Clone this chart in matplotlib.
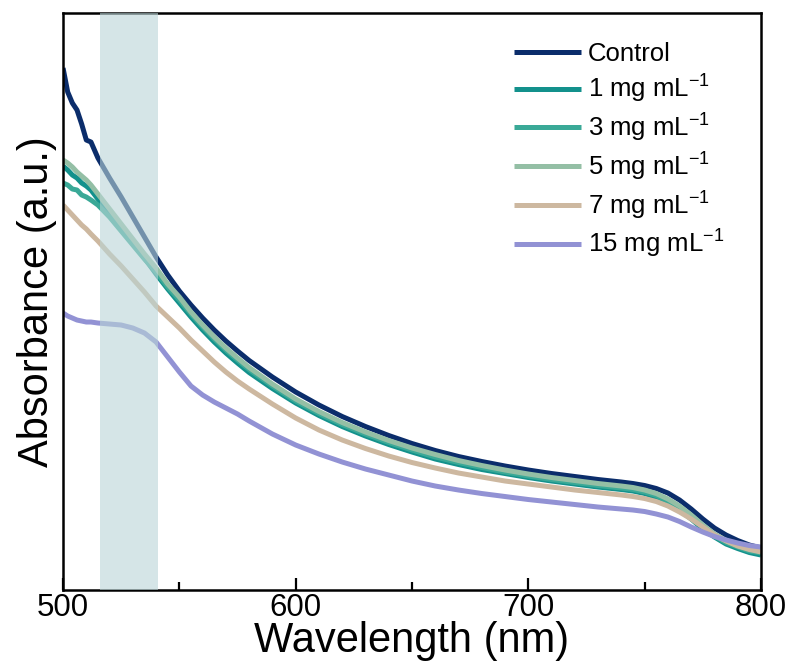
import matplotlib
matplotlib.use("Agg")
import matplotlib.pyplot as plt
from matplotlib.ticker import MultipleLocator

plt.rcParams['font.family'] = ['Liberation Sans', 'DejaVu Sans']
plt.rcParams['mathtext.fontset'] = 'custom'
plt.rcParams['mathtext.rm'] = 'Liberation Sans'
plt.rcParams['mathtext.it'] = 'Liberation Sans:italic'

# --- DATA (absorbance, a.u.) ---
wavelength = [500, 502, 504, 506, 508, 510, 512, 515, 520, 525, 530, 535, 540,
              545, 550, 555, 560, 565, 570, 575, 580, 590, 600, 610, 620, 630, 640,
              650, 660, 670, 680, 690, 700, 710, 720, 730, 740, 745, 750, 755, 760,
              765, 770, 775, 780, 785, 790, 795, 800]

control = [1.044, 0.996, 0.974, 0.960, 0.932, 0.900, 0.896, 0.864, 0.824, 0.786, 0.746, 0.706, 0.666,
           0.630, 0.598, 0.570, 0.544, 0.520, 0.498, 0.478, 0.459, 0.426, 0.396, 0.370, 0.347, 0.327, 0.309,
           0.293, 0.279, 0.267, 0.257, 0.248, 0.240, 0.233, 0.227, 0.221, 0.216, 0.213, 0.209, 0.203, 0.194,
           0.180, 0.162, 0.142, 0.124, 0.110, 0.099, 0.090, 0.084]
mg1 = [0.848, 0.840, 0.830, 0.824, 0.814, 0.808, 0.800, 0.782, 0.754, 0.724, 0.694, 0.664, 0.632,
       0.602, 0.574, 0.546, 0.520, 0.496, 0.474, 0.454, 0.435, 0.403, 0.374, 0.349, 0.327, 0.308, 0.291,
       0.276, 0.262, 0.251, 0.241, 0.233, 0.225, 0.218, 0.212, 0.206, 0.201, 0.198, 0.193, 0.185, 0.174,
       0.160, 0.142, 0.122, 0.106, 0.092, 0.083, 0.075, 0.070]
mg3 = [0.814, 0.810, 0.802, 0.800, 0.790, 0.786, 0.780, 0.770, 0.746, 0.718, 0.690, 0.662, 0.636,
       0.606, 0.580, 0.552, 0.526, 0.502, 0.480, 0.460, 0.441, 0.408, 0.378, 0.353, 0.331, 0.312, 0.295,
       0.280, 0.266, 0.255, 0.245, 0.236, 0.228, 0.221, 0.215, 0.209, 0.204, 0.201, 0.196, 0.189, 0.178,
       0.164, 0.146, 0.126, 0.108, 0.095, 0.086, 0.078, 0.074]
mg5 = [0.860, 0.854, 0.846, 0.836, 0.828, 0.820, 0.810, 0.792, 0.762, 0.732, 0.702, 0.672, 0.644,
       0.612, 0.586, 0.556, 0.530, 0.506, 0.484, 0.464, 0.445, 0.412, 0.382, 0.357, 0.335, 0.316, 0.299,
       0.284, 0.271, 0.259, 0.249, 0.240, 0.232, 0.225, 0.219, 0.213, 0.208, 0.205, 0.200, 0.193, 0.182,
       0.168, 0.150, 0.130, 0.112, 0.099, 0.089, 0.083, 0.080]
mg7 = [0.770, 0.760, 0.750, 0.740, 0.730, 0.722, 0.712, 0.698, 0.672, 0.648, 0.622, 0.596, 0.568,
       0.546, 0.524, 0.500, 0.478, 0.456, 0.436, 0.418, 0.402, 0.372, 0.344, 0.320, 0.300, 0.283, 0.268,
       0.255, 0.244, 0.234, 0.226, 0.218, 0.212, 0.206, 0.200, 0.195, 0.190, 0.187, 0.183, 0.177, 0.168,
       0.156, 0.142, 0.126, 0.110, 0.098, 0.088, 0.081, 0.076]
mg15 = [0.554, 0.548, 0.544, 0.540, 0.538, 0.536, 0.536, 0.534, 0.532, 0.530, 0.524, 0.514, 0.496,
        0.466, 0.436, 0.408, 0.390, 0.376, 0.364, 0.352, 0.338, 0.312, 0.290, 0.272, 0.256, 0.242, 0.230,
        0.218, 0.208, 0.200, 0.193, 0.187, 0.181, 0.176, 0.171, 0.166, 0.162, 0.160, 0.157, 0.152, 0.146,
        0.137, 0.126, 0.116, 0.107, 0.100, 0.094, 0.089, 0.086]

labels = ["Control", r"1 mg mL$^{-1}$", r"3 mg mL$^{-1}$", r"5 mg mL$^{-1}$",
          r"7 mg mL$^{-1}$", r"15 mg mL$^{-1}$"]
series = [control, mg1, mg3, mg5, mg7, mg15]
colors = ["#0b2d6b", "#13918c", "#3aa997", "#94bfa5", "#cdb8a0", "#9292d4"]

highlight = (516, 541)

# --- PLOT ---
fig = plt.figure(figsize=(7.91, 6.64), dpi=100)
ax = fig.add_axes([0.0797, 0.1114, 0.8824, 0.8690])

for y, c, lab in zip(series, colors, labels):
    ax.plot(wavelength, y, color=c, linewidth=3.6, label=lab,
            solid_joinstyle='round', solid_capstyle='butt')

ax.axvspan(*highlight, color="#b9d5d7", alpha=0.6, lw=0, zorder=5)

ax.set_xlim(500, 800)
ax.set_ylim(0, 1.154)
ax.xaxis.set_major_locator(MultipleLocator(100))
ax.xaxis.set_minor_locator(MultipleLocator(50))
ax.tick_params(axis='x', which='major', direction='in', length=9, width=1.6,
               labelsize=22.5, pad=2)
ax.tick_params(axis='x', which='minor', direction='in', length=6, width=1.6)
ax.set_yticks([])
for s in ax.spines.values():
    s.set_linewidth(1.8)

ax.set_xlabel("Wavelength (nm)", fontsize=30, labelpad=-1)
ax.set_ylabel("Absorbance (a.u.)", fontsize=30, labelpad=4)

ax.legend(loc='upper left', bbox_to_anchor=(0.628, 0.972), frameon=False,
          fontsize=18.5, handlelength=2.6, handletextpad=0.28, labelspacing=0.26,
          borderpad=0)

fig.savefig("out.png", dpi=100)
